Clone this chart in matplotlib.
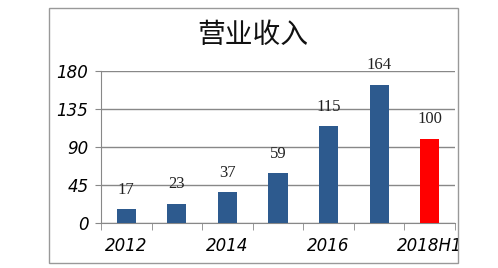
import matplotlib.pyplot as plt
from matplotlib.patches import Rectangle

plt.rcParams['font.family'] = ['Noto Sans CJK SC', 'DejaVu Sans']

years = ["2012", "2013", "2014", "2015", "2016", "2017", "2018H1"]
revenue = [17, 23, 37, 59, 115, 164, 100]
tick_labels = ["2012", "", "2014", "", "2016", "", "2018H1"]
yticks = [0, 45, 90, 135, 180]
colors = ["#2d5a8e"] * 6 + ["#ff0000"]

fig = plt.figure(figsize=(4.98, 2.68), dpi=100)
ax = fig.add_axes([101 / 498, 1 - 223 / 268, 354 / 498, 152 / 268])

x = list(range(len(years)))
ax.bar(x, revenue, width=0.38, color=colors, zorder=3)
for xi, v in zip(x, revenue):
    ax.annotate(str(v), (xi, v), xytext=(0, 8), textcoords="offset points",
                ha="center", va="bottom", fontsize=12,
                family="Liberation Serif", color="#222222")

ax.set_xlim(-0.5, 6.5)
ax.set_ylim(0, 180)
ax.set_yticks(yticks)
ax.set_yticklabels([str(t) for t in yticks], fontsize=12, style="italic",
                   family="DejaVu Sans")
ax.set_xticks(x)
ax.set_xticklabels(tick_labels, fontsize=12, style="italic", family="DejaVu Sans")
ax.tick_params(axis="x", length=0, pad=10)
ax.tick_params(axis="y", length=4, color="#888888", pad=5)
# category boundary ticks on the x axis
ax.set_xticks([i - 0.5 for i in range(8)], minor=True)
ax.tick_params(axis="x", which="minor", length=5, color="#888888", direction="out")

ax.grid(axis="y", color="#888888", linewidth=1, zorder=0)
for s in ["top", "right"]:
    ax.spines[s].set_visible(False)
ax.spines["left"].set_color("#888888")
ax.spines["bottom"].set_color("#888888")

fig.text(253 / 498, 1 - 35 / 268, "营业收入", ha="center", va="center",
         fontsize=20, color="#111111")

# outer frame, text beyond it hidden
fig.patches.append(Rectangle((459 / 498, 0), 1, 1, transform=fig.transFigure,
                             facecolor="white", edgecolor="none", zorder=10))
fig.patches.append(Rectangle((49 / 498, 1 - 263 / 268), 409 / 498, 255 / 268,
                             transform=fig.transFigure, fill=False,
                             edgecolor="#999999", linewidth=1, zorder=11))

fig.savefig("out.png", dpi=100)
